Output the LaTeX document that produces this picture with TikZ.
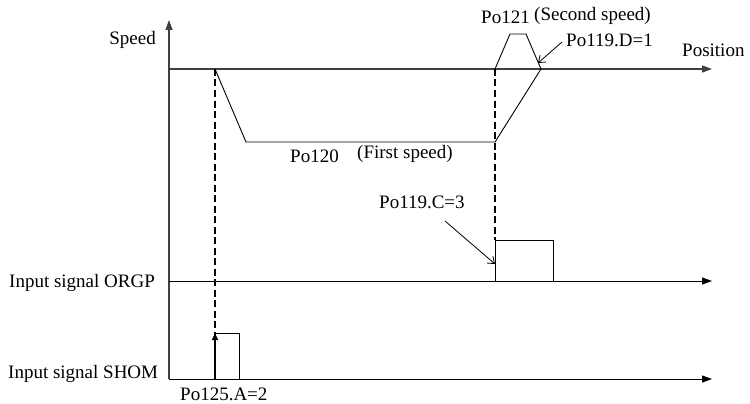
\documentclass[tikz,border=0pt]{standalone}
\usepackage{fontspec}
\setmainfont{Liberation Serif}
\usetikzlibrary{arrows.meta}
\begin{document}
\begin{tikzpicture}[x=1pt,y=-1pt,
  lbl/.style={inner sep=0pt,font=\fontsize{19}{22}\selectfont},
  axisline/.style={line width=1.3pt,draw=black!75},
  sigline/.style={line width=1pt,draw=black},
  curve/.style={line width=0.9pt,draw=black},
  bigtip/.style={-{Triangle[length=10pt,width=7pt]}},
  marker/.style={line width=2.4pt,draw=black,dash pattern=on 7pt off 3.5pt},
  pointer/.style={line width=0.8pt,-{Straight Barb[length=6pt,width=9pt]}}]
\useasboundingbox (0,0) rectangle (750,404);
% coordinates
\coordinate (ytop) at (169,20);
\coordinate (ybot) at (169,379);
\coordinate (vA) at (169,69);
\coordinate (vEnd) at (712,69);
\coordinate (oA) at (169,281);
\coordinate (oEnd) at (712,281);
\coordinate (sA) at (169,379);
\coordinate (sEnd) at (712,379);
\coordinate (p1) at (215,69);
\coordinate (p2) at (246,142);
\coordinate (p3) at (495,142);
\coordinate (p4) at (541,69);
\coordinate (q1) at (495,69);
\coordinate (q2) at (510,34);
\coordinate (q3) at (526,34);
\coordinate (d1b) at (215,379);
\coordinate (d2b) at (495,240);
\coordinate (sh1) at (215,333);
\coordinate (sh2) at (239,333);
\coordinate (sh3) at (239,379);
\coordinate (or1) at (495,281);
\coordinate (or2) at (495,240);
\coordinate (or3) at (553,240);
\coordinate (or4) at (553,281);
\coordinate (dTail) at (562,42);
\coordinate (dTip) at (538,63);
\coordinate (cTail) at (445,221);
\coordinate (cTip) at (495,264);
% axes
\draw[axisline,bigtip] (ybot) -- (ytop);
\draw[axisline,bigtip] (vA) -- (vEnd);
\draw[sigline,bigtip] (oA) -- (oEnd);
\draw[sigline,bigtip] (sA) -- (sEnd);
% speed profile
\draw[curve] (p1) -- (p2) -- (p3) -- (p4);
\draw[curve] (q1) -- (q2) -- (q3) -- (p4);
% dashed markers
\draw[marker] (p1) -- (d1b);
\draw[marker] (q1) -- (d2b);
% pulses
\draw[curve] (or1) -- (or2) -- (or3) -- (or4);
\draw[curve] (sh1) -- (sh2) -- (sh3);
\draw[line width=1.3pt,-{Triangle[length=7pt,width=6pt]}] (d1b) -- (sh1);
% pointers
\draw[pointer] (dTail) -- (dTip);
\draw[pointer] (cTail) -- (cTip);
% labels
\node[lbl,anchor=base east] (speed) at (156,45) {Speed};
\node[lbl,anchor=base west] (pos) at (682,57) {Position};
\node[lbl,anchor=base west] (po121) at (481,24) {Po121};
\node[lbl,anchor=base west] (second) at (534,21) {(Second speed)};
\node[lbl,anchor=base west] (po119d) at (566,47) {Po119.D=1};
\node[lbl,anchor=base west] (po120) at (290,162) {Po120};
\node[lbl,anchor=base west] (first) at (357,158) {(First speed)};
\node[lbl,anchor=base west] (po119c) at (379,208) {Po119.C=3};
\node[lbl,anchor=base west] (orgp) at (9,287) {Input signal ORGP};
\node[lbl,anchor=base west] (shom) at (8,378) {Input signal SHOM};
\node[lbl,anchor=base west] (po125) at (180,400) {Po125.A=2};
\end{tikzpicture}
\end{document}
